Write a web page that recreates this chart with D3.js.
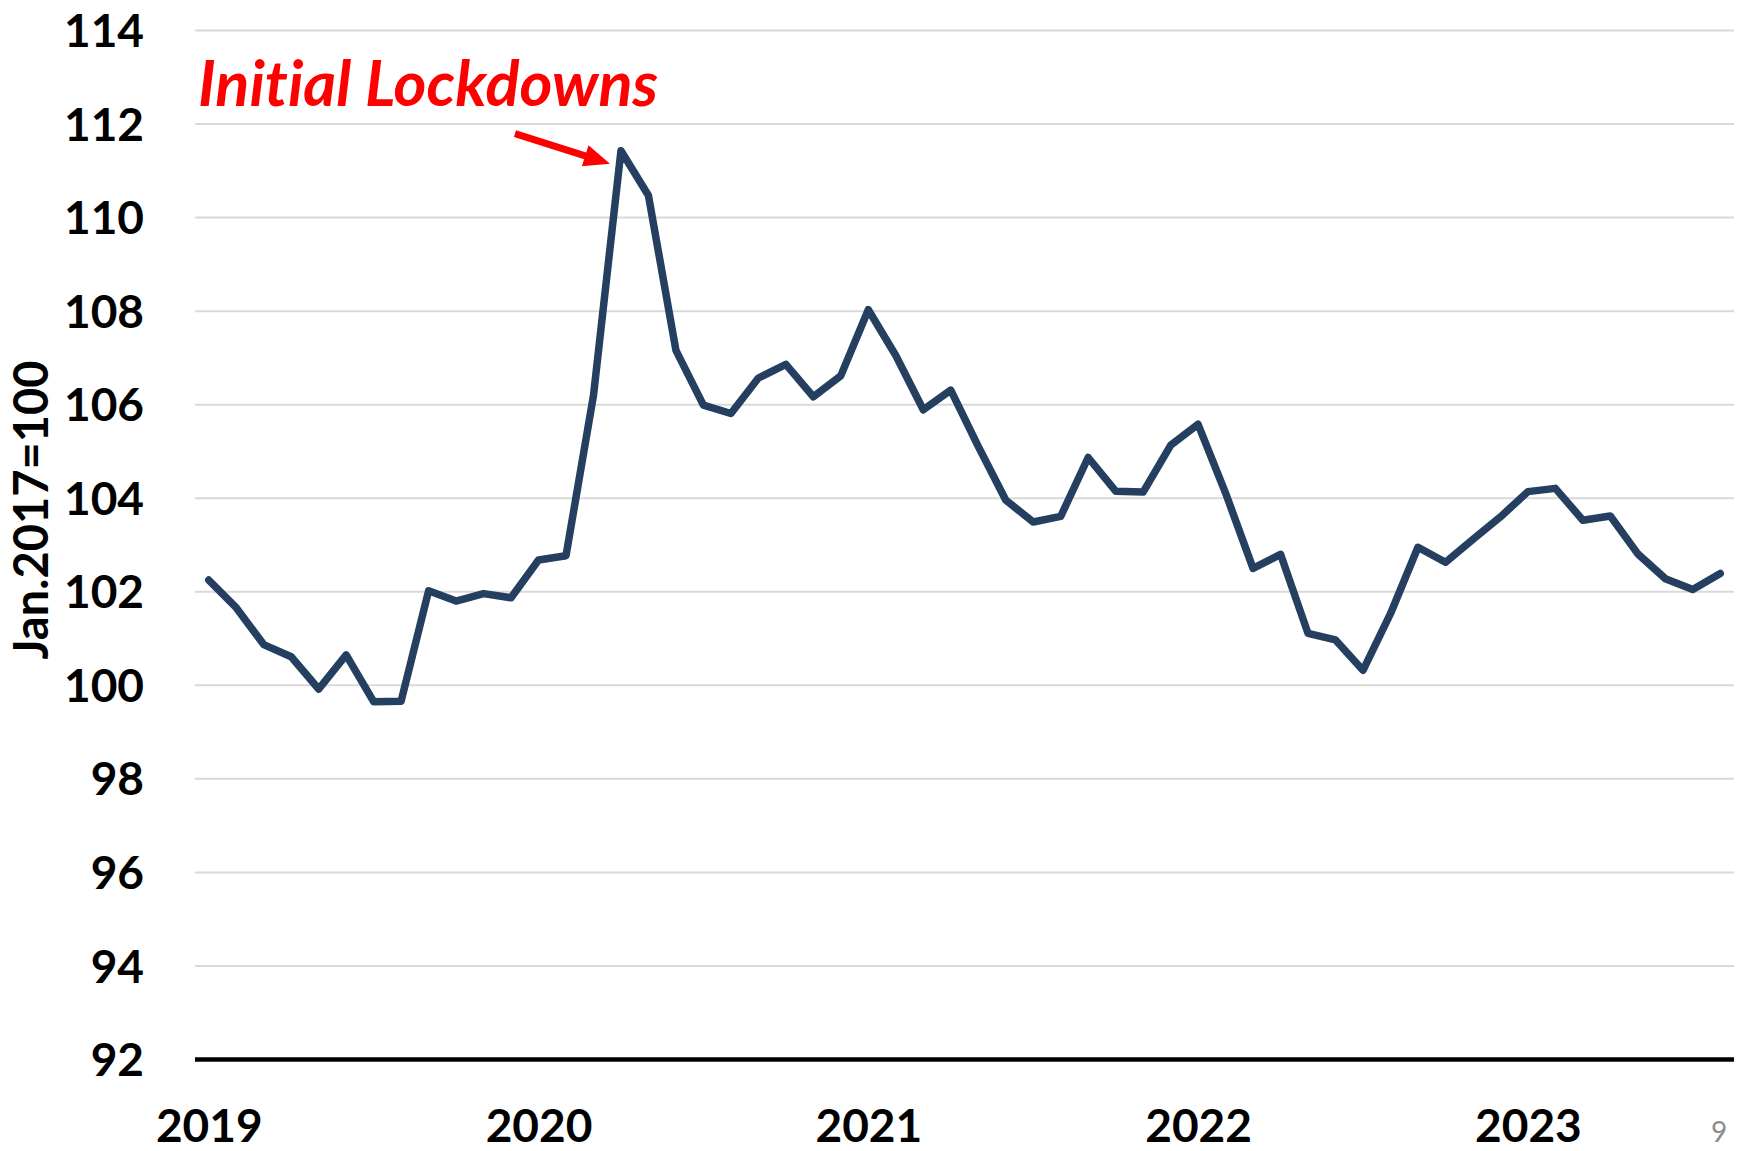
<!DOCTYPE html>
<html>
<head>
<meta charset="utf-8">
<script src="https://cdn.jsdelivr.net/npm/d3@7"></script>
<style>
  body { margin: 0; background: #fff; }
  svg text { font-family: Lato, "Open Sans", sans-serif; font-variant-ligatures: none; }
</style>
</head>
<body>
<div id="chart"></div>
<script>
// Monthly index, Jan 2019 - Aug 2023 (Jan.2017=100)
var startYear = 2019;
var values = [
  102.24, 101.65, 100.86, 100.60, 99.91, 100.64, 99.64, 99.65, 102.01, 101.79, 101.95, 101.86,
  102.67, 102.76, 106.19, 111.42, 110.46, 107.15, 105.98, 105.80, 106.56, 106.85, 106.16, 106.61,
  108.02, 107.04, 105.88, 106.30, 105.10, 103.95, 103.48, 103.60, 104.86, 104.14, 104.12, 105.12,
  105.57, 104.10, 102.49, 102.79, 101.10, 100.96, 100.31, 101.52, 102.94, 102.62, 103.11, 103.59,
  104.13, 104.20, 103.52, 103.61, 102.80, 102.27, 102.04, 102.38
];
var yearLabels = ["2019", "2020", "2021", "2022", "2023"];
var yTicks = [92, 94, 96, 98, 100, 102, 104, 106, 108, 110, 112, 114];
var annotationText = "Initial Lockdowns";
var peakIndex = 15;

// SVG area
var svgWidth = 1746;
var svgHeight = 1151;

var margin = { top: 30, right: 12, bottom: 92, left: 195 };
var chartWidth = svgWidth - margin.left - margin.right;
var chartHeight = svgHeight - margin.top - margin.bottom;

var svg = d3.select("#chart")
    .append("svg")
    .attr("width", svgWidth)
    .attr("height", svgHeight);

var chartGroup = svg.append("g")
    .attr("transform", `translate(${margin.left}, ${margin.top})`);

// scales
var xScale = d3.scalePoint()
    .domain(d3.range(values.length))
    .range([0, chartWidth])
    .padding(0.5);

var yScale = d3.scaleLinear()
    .domain([92, 114])
    .range([chartHeight, 0]);

// y axis with gridlines
var leftAxis = d3.axisLeft(yScale)
    .tickValues(yTicks)
    .tickSize(-chartWidth)
    .tickPadding(51)
    .tickFormat(d3.format("d"));

var yAxisG = chartGroup.append("g").call(leftAxis);
yAxisG.select(".domain").remove();
yAxisG.selectAll(".tick line")
    .attr("stroke", d => d === 92 ? "#000" : "#d9d9d9")
    .attr("stroke-width", d => d === 92 ? 4.5 : 2);
yAxisG.selectAll(".tick text")
    .attr("font-size", "46px")
    .attr("font-weight", "bold")
    .attr("fill", "#000")
    .attr("dy", "0.36em");

// x axis, labels on January of each year
var bottomAxis = d3.axisBottom(xScale)
    .tickValues(yearLabels.map((y, i) => i * 12))
    .tickSize(0)
    .tickPadding(50)
    .tickFormat((d, i) => yearLabels[i]);

var xAxisG = chartGroup.append("g")
    .attr("transform", "translate(0, " + chartHeight + ")")
    .call(bottomAxis);
xAxisG.select(".domain").remove();
xAxisG.selectAll(".tick text")
    .attr("font-size", "46px")
    .attr("font-weight", "bold")
    .attr("fill", "#000");

// the line
var line = d3.line()
    .x((d, i) => xScale(i))
    .y(d => yScale(d));

chartGroup.append("path")
    .datum(values)
    .attr("d", line)
    .attr("fill", "none")
    .attr("stroke", "#243f60")
    .attr("stroke-width", 7.5)
    .attr("stroke-linejoin", "round")
    .attr("stroke-linecap", "round");

// annotation text
chartGroup.append("text")
    .attr("x", 3)
    .attr("y", 76)
    .attr("font-size", "63px")
    .attr("font-weight", "bold")
    .attr("font-style", "italic")
    .attr("fill", "#ff0000")
    .text(annotationText);

// arrow pointing at the peak
var tip = [xScale(peakIndex) - 11, yScale(values[peakIndex]) + 13];
var tail = [tip[0] - 95, tip[1] - 30];
var ang = Math.atan2(tip[1] - tail[1], tip[0] - tail[0]);
var headLen = 26, headW = 11, shaftW = 3.5;
function pt(along, side) {
  return [tail[0] + along * Math.cos(ang) - side * Math.sin(ang),
          tail[1] + along * Math.sin(ang) + side * Math.cos(ang)];
}
var len = Math.hypot(tip[0] - tail[0], tip[1] - tail[1]);
var arrowPts = [
  pt(0, -shaftW), pt(len - headLen, -shaftW), pt(len - headLen, -headW),
  pt(len, 0), pt(len - headLen, headW), pt(len - headLen, shaftW), pt(0, shaftW)
];
chartGroup.append("path")
    .attr("d", "M" + arrowPts.map(p => p.join(",")).join("L") + "Z")
    .attr("fill", "#ff0000");

// y axis title
svg.append("text")
    .attr("transform", "translate(48, 510) rotate(-90)")
    .attr("text-anchor", "middle")
    .attr("font-size", "47px")
    .attr("font-weight", "bold")
    .attr("fill", "#000")
    .text("Jan.2017=100");

// page number
svg.append("text")
    .attr("x", 1719)
    .attr("y", 1142)
    .attr("text-anchor", "middle")
    .attr("font-size", "28px")
    .attr("fill", "#8c8c8c")
    .text("9");
</script>
</body>
</html>
